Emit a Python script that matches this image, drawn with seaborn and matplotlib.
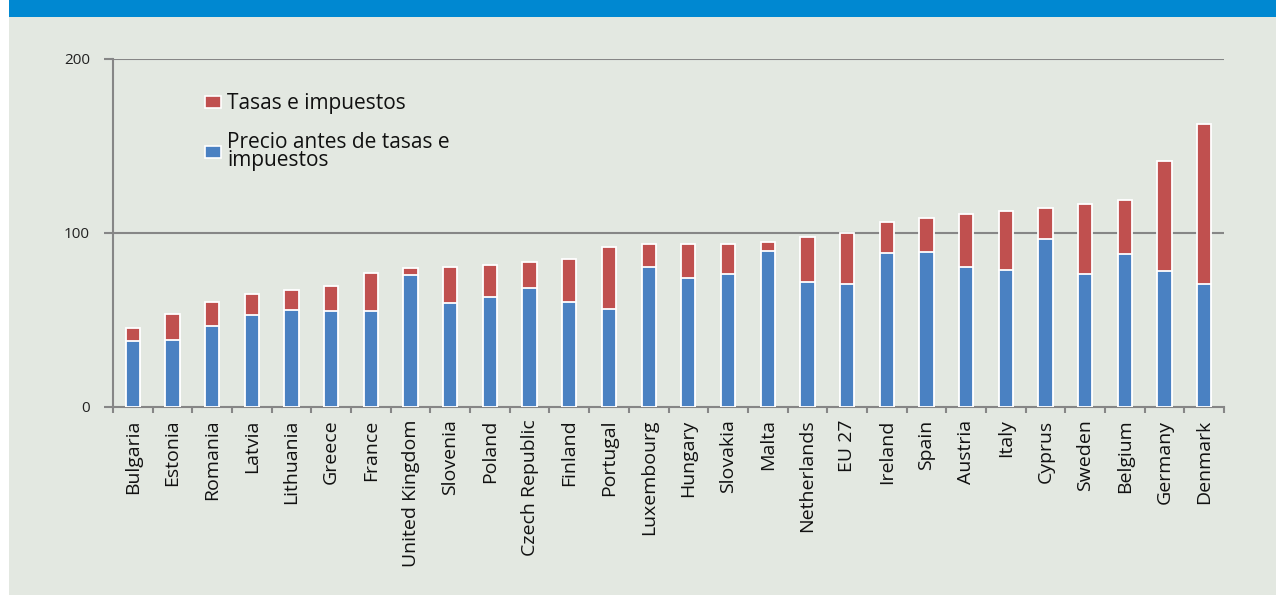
import numpy as np
import pandas as pd
import seaborn as sns
import matplotlib.pyplot as plt
from matplotlib.patches import Rectangle, Patch

#%% data
paises = ["Bulgaria", "Estonia", "Romania", "Latvia", "Lithuania", "Greece",
          "France", "United Kingdom", "Slovenia", "Poland", "Czech Republic",
          "Finland", "Portugal", "Luxembourg", "Hungary", "Slovakia", "Malta",
          "Netherlands", "EU 27", "Ireland", "Spain", "Austria", "Italy",
          "Cyprus", "Sweden", "Belgium", "Germany", "Denmark"]
precio_antes = [37.9, 38.5, 46.6, 53.0, 55.7, 55.4, 55.4, 75.7, 59.6, 63.4, 68.2,
                60.2, 56.3, 80.6, 74.1, 76.2, 89.8, 71.8, 70.9, 88.5, 88.9, 80.3,
                78.6, 96.4, 76.6, 87.9, 78.2, 70.7]
tasas = [7.7, 15.1, 13.7, 12.1, 11.5, 13.9, 21.6, 4.0, 20.7, 18.4, 15.1,
         25.0, 35.8, 13.3, 19.8, 17.7, 5.0, 25.7, 28.9, 17.6, 19.9, 30.6,
         34.0, 17.8, 40.3, 31.2, 63.0, 92.1]
y_ticks = [0, 100, 200]

df = pd.DataFrame({"pais": paises, "precio": precio_antes, "tasas": tasas})
df["total"] = df["precio"] + df["tasas"]

#%% style
sns.set_theme(style="white")
plt.rcParams["font.family"] = ["Open Sans", "DejaVu Sans"]
bg = "#e3e8e1"
azul = "#4a81c2"
rojo = "#c0504f"
gris = "#868686"

fig = plt.figure(figsize=(12.76, 5.95), dpi=100)
fig.patch.set_facecolor("white")
# background panel and blue banner (title is cut off at the top, as in the source)
fig.add_artist(Rectangle((9 / 1276, 0), 1, 1, transform=fig.transFigure,
                         facecolor=bg, edgecolor="none", zorder=-10))
fig.add_artist(Rectangle((9 / 1276, 1 - 16.5 / 595), 1, 16.5 / 595,
                         transform=fig.transFigure, facecolor="#0088d1",
                         edgecolor="none", zorder=-5))
fig.text(1003 / 1276, 1 + 6 / 595, "Electricidad: tasas e impuestos (euros por 100 kWh)",
         ha="right", va="baseline", color="white", fontsize=19, fontweight="bold")

ax = fig.add_axes([113 / 1276, 1 - 407 / 595, 1111 / 1276, 348 / 595])
ax.set_facecolor("none")

sns.barplot(data=df, x="pais", y="total", color=rojo, saturation=1, width=0.36,
            edgecolor="white", linewidth=1.3, ax=ax, zorder=3)
sns.barplot(data=df, x="pais", y="precio", color=azul, saturation=1, width=0.36,
            edgecolor="white", linewidth=1.3, ax=ax, zorder=4)

ax.set_xlim(-0.5, len(paises) - 0.5)
ax.set_ylim(0, 200)
ax.set_yticks(y_ticks)
ax.set_yticklabels([str(t) for t in y_ticks])
for t in y_ticks[1:]:
    ax.axhline(t, color=gris, lw=1.5, zorder=1)

for s in ["top", "right"]:
    ax.spines[s].set_visible(False)
for s in ["left", "bottom"]:
    ax.spines[s].set_color(gris)
    ax.spines[s].set_linewidth(1.5)

ax.set_xlabel("")
ax.set_ylabel("")
ax.set_xticks(np.arange(len(paises)))
ax.set_xticklabels(paises, rotation=90, fontsize=14, color="#111111")
ax.set_xticks(np.arange(len(paises) + 1) - 0.5, minor=True)
ax.tick_params(axis="x", which="major", length=0, pad=9)
ax.tick_params(axis="x", which="minor", length=4, width=1.5, color=gris, bottom=True)
ax.tick_params(axis="y", length=6.5, width=1.5, color=gris, left=True,
               labelsize=11, labelcolor="#222222", pad=10)

handles = [Patch(facecolor=rojo, edgecolor="white", lw=1.2),
           Patch(facecolor=azul, edgecolor="white", lw=1.2)]
leg = ax.legend(handles, ["Tasas e impuestos", "Precio antes de tasas e\nimpuestos"],
                loc="upper left", bbox_to_anchor=(0.066, 0.955), frameon=False,
                fontsize=15, handlelength=0.75, handleheight=0.45, handletextpad=0.3,
                labelspacing=0.85)
for t in leg.get_texts():
    t.set_linespacing(0.8)
    t.set_color("#111111")

fig.savefig("out.png", dpi=100)
